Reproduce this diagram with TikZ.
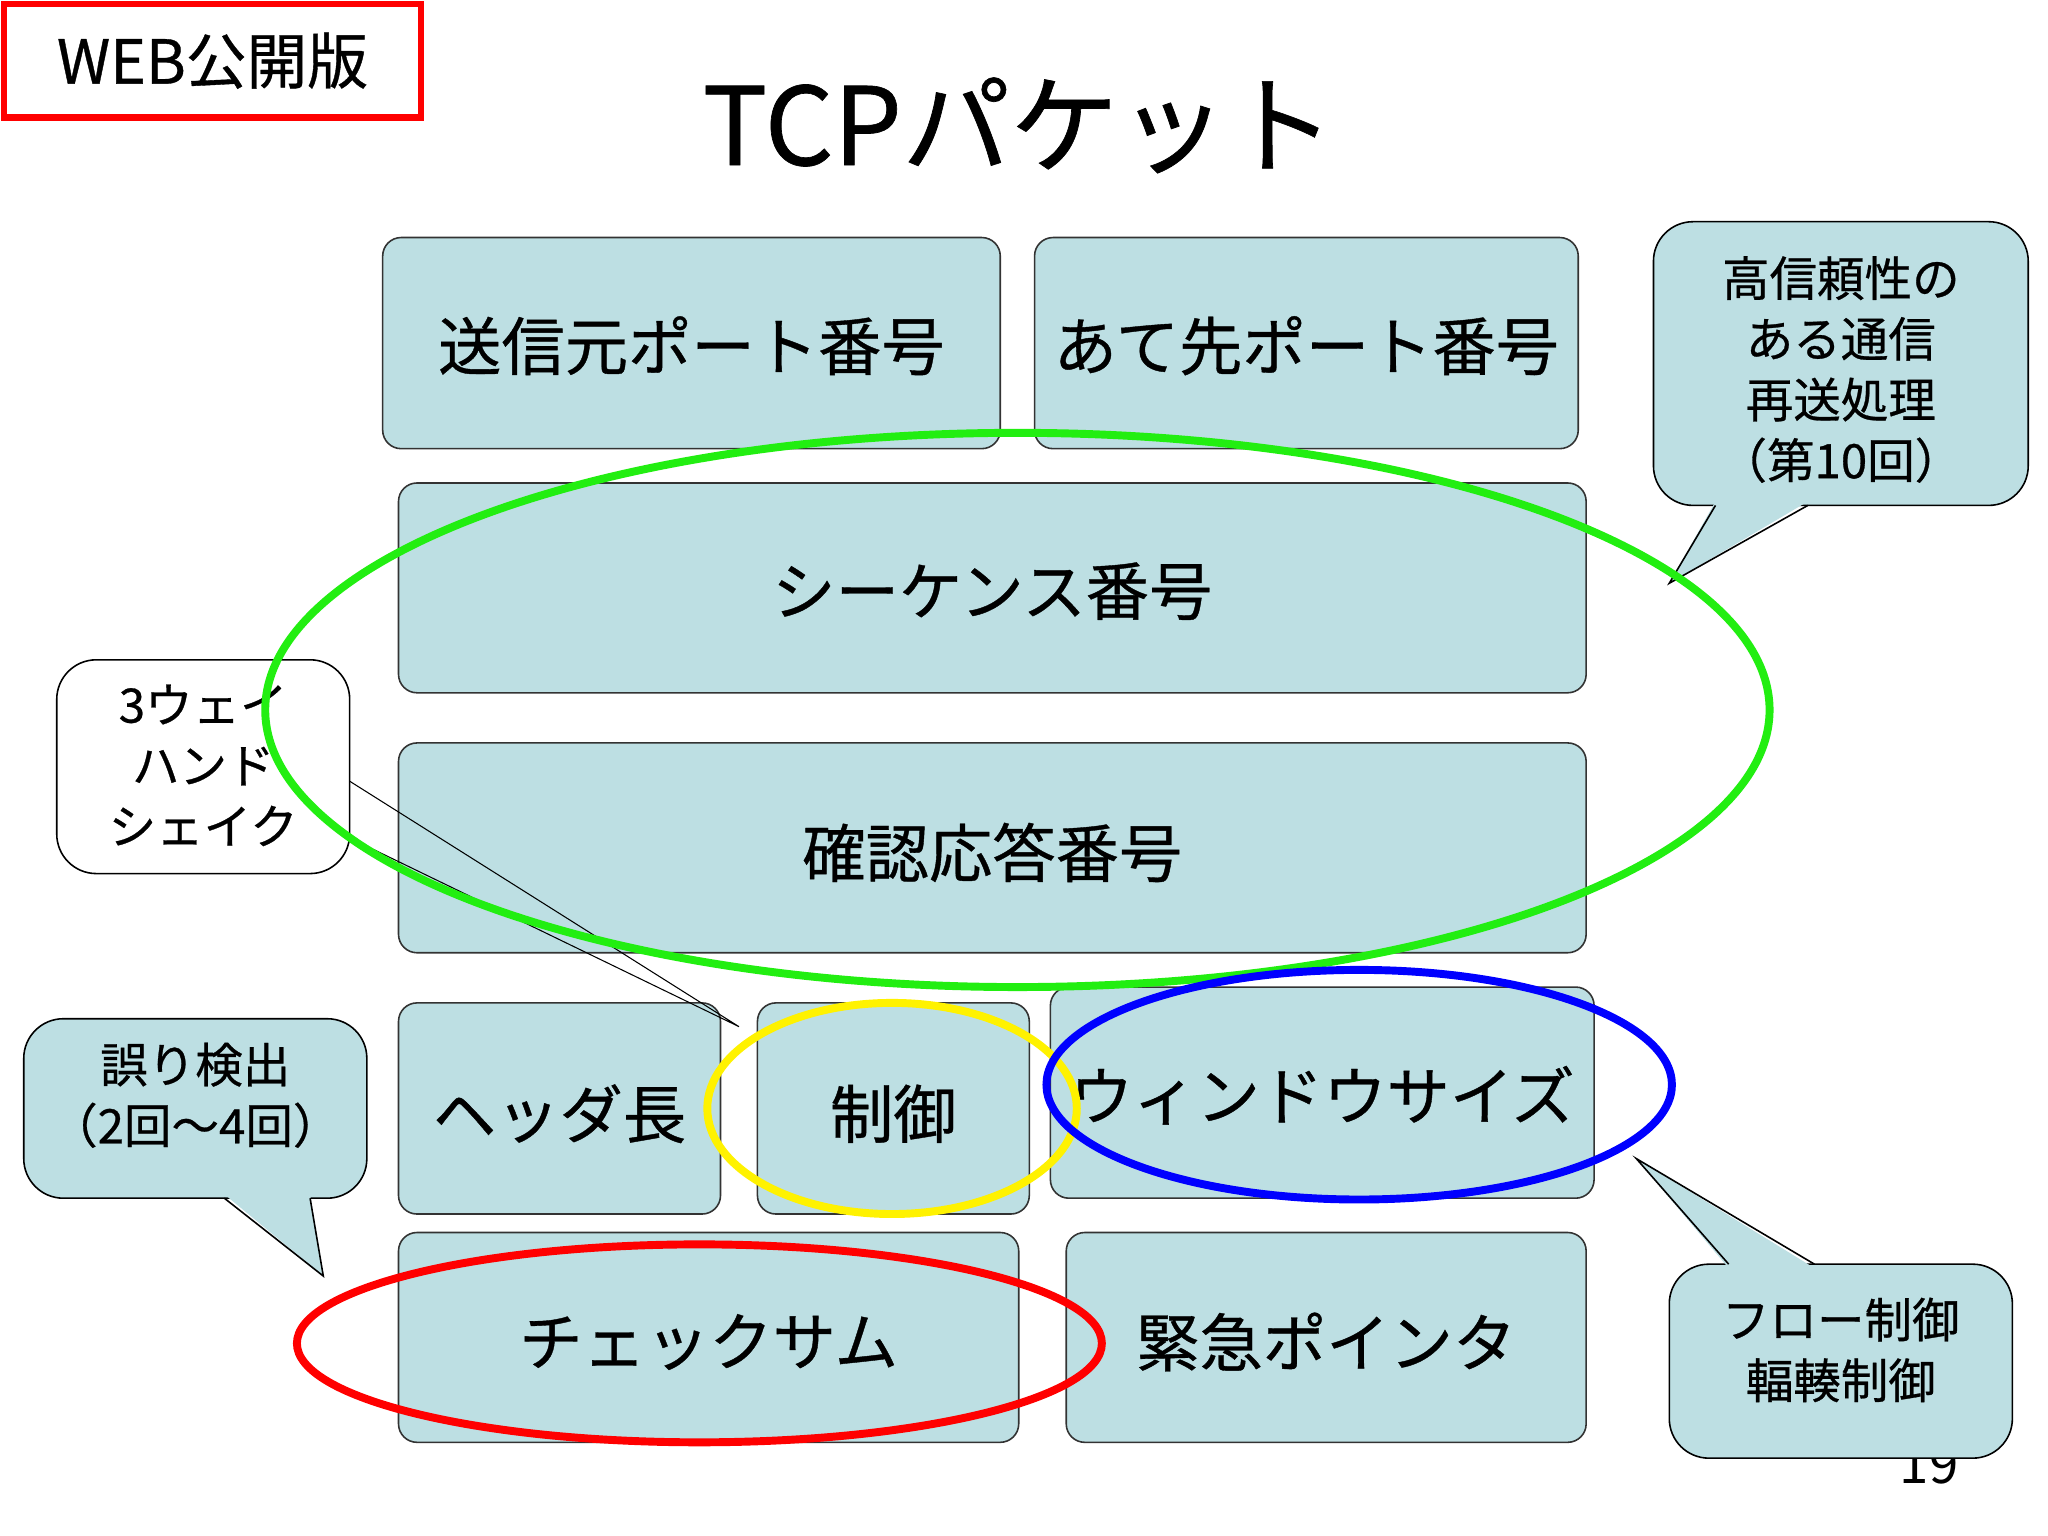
\documentclass[tikz,border=0pt]{standalone}
\usepackage{fontspec}
\newfontfamily\jp[FakeBold=0.6]{Noto Sans CJK JP}
\newfontfamily\jpt{Noto Sans CJK JP}
\begin{document}
\begin{tikzpicture}[x=1pt,y=-1pt,
  fld/.style={draw=black!80,fill=fldc,rounded corners=14pt,line width=1.2pt},
  cal/.style={draw=black,fill=fldc,rounded corners=30pt,line width=1.2pt},
  ftext/.style={font=\jp\fontsize{48}{54}\selectfont},
  ctext/.style={font=\jp\fontsize{36}{46}\selectfont,align=center},
  ring/.style={line width=6pt}]
\definecolor{fldc}{HTML}{BDDFE3}
\definecolor{ggreen}{HTML}{22EE11}
\useasboundingbox (0,0) rectangle (1552,1164);
\fill[white] (0,0) rectangle (1552,1164);
% header
\node[draw=red,line width=5pt,minimum width=316pt,minimum height=86pt,font=\jp\fontsize{46}{50}\selectfont] (web) at (161,46) {WEB公開版};
\node[font=\jp\fontsize{82}{90}\selectfont] (title) at (772,95) {TCPパケット};
\node[font=\fontsize{40}{44}\selectfont\jpt] (pg) at (1462,1110) {19};
% fields
\draw[fld] (290,180) rectangle (758,340); \node[ftext] (src) at (524,262) {送信元ポート番号};
\draw[fld] (784,180) rectangle (1196,340); \node[ftext] (dst) at (990,262) {あて先ポート番号};
\draw[fld] (302,366) rectangle (1202,525); \node[ftext] (seq) at (752,448) {シーケンス番号};
\draw[fld] (302,563) rectangle (1202,722); \node[ftext] (ack) at (752,646) {確認応答番号};
\draw[fld] (302,760) rectangle (546,920); \node[ftext] (hl) at (424,844) {ヘッダ長};
\draw[fld] (574,760) rectangle (780,920); \node[ftext] (ctl) at (677,844) {制御};
\draw[fld] (796,748) rectangle (1208,908); \node[ftext] (win) at (1002,830) {ウィンドウサイズ};
\draw[fld] (302,934) rectangle (772,1093); \node[ftext] (cs) at (537,1017) {チェックサム};
\draw[fld] (808,934) rectangle (1202,1093); \node[ftext] (urg) at (1005,1017) {緊急ポインタ};
% callouts
\draw[cal] (1253,168) rectangle (1537,383);
\fill[fldc] (1300,380) -- (1265,442) -- (1370,380) -- cycle;
\draw[line width=1.2pt] (1300,383) -- (1265,442) -- (1370,383);
\node[ctext] (c1) at (1395,280) {高信頼性の\\ある通信\\再送処理\\（第10回）};
\draw[cal] (18,772) rectangle (278,908);
\fill[fldc] (170,905) -- (245,967) -- (235,905) -- cycle;
\draw[line width=1.2pt] (170,908) -- (245,967) -- (235,908);
\node[ctext] (c2) at (148,830) {誤り検出\\（2回～4回）};
\draw[cal] (1265,958) rectangle (1525,1105);
\fill[fldc] (1310,961) -- (1240,878) -- (1375,961) -- cycle;
\draw[line width=1.2pt] (1310,958) -- (1240,878) -- (1375,958);
\node[ctext] (c3) at (1395,1023) {フロー制御\\輻輳制御};
\draw[draw=black,fill=white,rounded corners=30pt,line width=1.2pt] (43,500) rectangle (265,662);
\node[ctext] (c4) at (154,580) {3ウェイ\\ハンド\\シェイク};
\coordinate (tip) at (560,778);
\draw[line width=0.8pt] (265,592) -- (tip) -- (265,635);
% rings
\draw[ggreen,ring] (771,538) ellipse (570 and 210);
\draw[yellow,ring] (676,840) ellipse (140 and 80);
\draw[blue,ring] (1030,822) ellipse (237 and 87);
\draw[red,ring] (530,1018) ellipse (305 and 75);
\end{tikzpicture}
\end{document}
